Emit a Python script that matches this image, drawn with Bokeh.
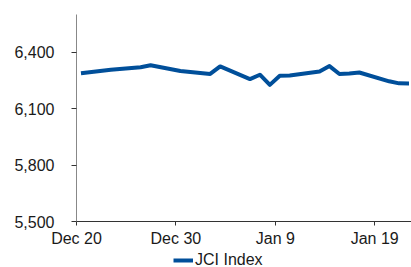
import pandas as pd
from bokeh.plotting import figure
from bokeh.layouts import column
from bokeh.models import FixedTicker, NumeralTickFormatter, Legend, LegendItem, Range1d, ColumnDataSource
from bokeh.embed import file_html
from bokeh.resources import INLINE

dates = ["2019-12-20", "2019-12-23", "2019-12-26", "2019-12-27", "2019-12-30",
         "2020-01-02", "2020-01-03", "2020-01-06", "2020-01-07", "2020-01-08",
         "2020-01-09", "2020-01-10", "2020-01-13", "2020-01-14", "2020-01-15",
         "2020-01-16", "2020-01-17", "2020-01-20", "2020-01-21", "2020-01-22"]
jci = [6288, 6306, 6320, 6330, 6300,
       6284, 6324, 6257, 6280, 6226,
       6275, 6276, 6297, 6326, 6284,
       6287, 6292, 6245, 6234, 6233]
tick_dates = ["2019-12-20", "2019-12-30", "2020-01-09", "2020-01-19"]
tick_labels = ["Dec 20", "Dec 30", "Jan 9", "Jan 19"]
y_ticks = [5500, 5800, 6100, 6400]
series_name = "JCI Index"

origin = pd.Timestamp(tick_dates[0])
xs = [(pd.Timestamp(d) - origin).days + 0.45 for d in dates]
tx = [(pd.Timestamp(d) - origin).days for d in tick_dates]

FONT = "Liberation Sans"
LINE_COLOR = "#004f9a"
p = figure(frame_width=335, frame_height=207, output_backend="svg", toolbar_location=None,
           x_range=Range1d(0, 33.7), y_range=Range1d(5500, 6600),
           min_border_left=76, min_border_top=14, min_border_right=0, min_border_bottom=26)
p.outline_line_color = None
p.grid.visible = False
p.background_fill_color = "white"
p.border_fill_color = "white"

src = ColumnDataSource(dict(x=xs, y=jci))
r = p.line("x", "y", source=src, line_color=LINE_COLOR, line_width=4, line_join="round")

p.xaxis.ticker = FixedTicker(ticks=tx)
p.xaxis.major_label_overrides = {t: l for t, l in zip(tx, tick_labels)}
p.yaxis.ticker = FixedTicker(ticks=y_ticks)
p.yaxis.formatter = NumeralTickFormatter(format="0,0")

for ax in (p.xaxis[0], p.yaxis[0]):
    ax.major_label_text_font = FONT
    ax.major_label_text_font_size = "16px"
    ax.major_label_text_color = "#1a1a1a"
    ax.minor_tick_line_color = None
    ax.major_tick_in = 0
    ax.major_tick_line_width = 1

p.yaxis.axis_line_color = "#888888"
p.yaxis.major_tick_line_color = "#333333"
p.yaxis.major_tick_out = 5
p.yaxis.major_label_standoff = 17
p.xaxis.axis_line_color = "#333333"
p.xaxis.major_tick_line_color = "#333333"
p.xaxis.major_tick_out = 4
p.xaxis.major_label_standoff = 4

# legend strip below the chart (its line is a proxy lying outside the view)
lg = figure(width=411, height=20, output_backend="svg", toolbar_location=None,
            x_range=Range1d(0, 1), y_range=Range1d(0, 1),
            min_border_left=0, min_border_right=0, min_border_top=0, min_border_bottom=0)
lg.axis.visible = False
lg.grid.visible = False
lg.outline_line_color = None
lr = lg.line(x=[-5, -4], y=[-5, -4], line_color=LINE_COLOR, line_width=4)
legend = Legend(items=[LegendItem(label=series_name, renderers=[lr])],
                location=(97, 0), orientation="horizontal",
                label_text_font=FONT, label_text_font_size="16px", label_text_color="#1a1a1a",
                glyph_width=20, glyph_height=14, label_standoff=2,
                border_line_color=None, background_fill_alpha=0,
                padding=0, margin=0, spacing=0, label_height=14)
lg.add_layout(legend, "center")

layout = column(p, lg, spacing=0)
open("out.html", "w").write(file_html(layout, INLINE))
